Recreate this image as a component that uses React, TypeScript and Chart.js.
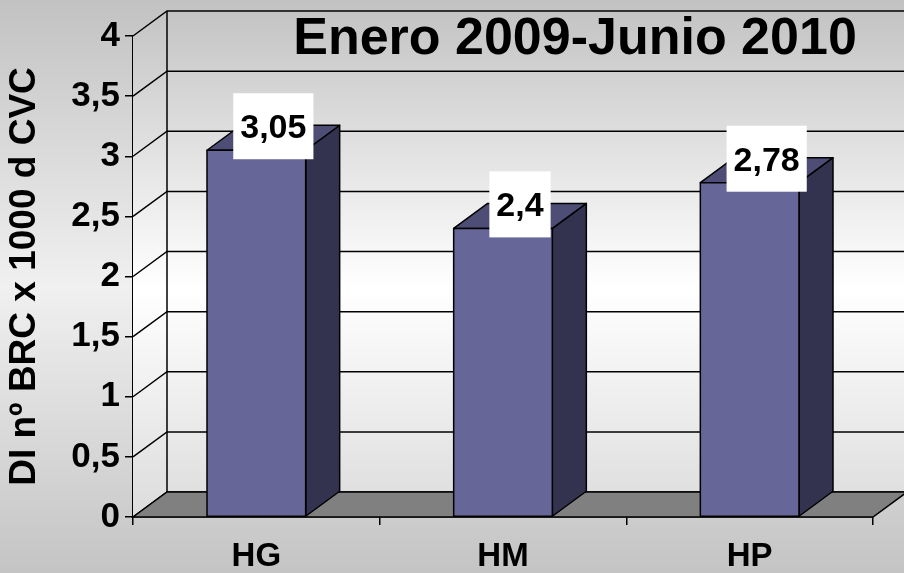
import React, { useEffect, useRef } from 'react';
import { Chart, registerables } from 'chart.js';

Chart.register(...registerables);

const categories = ['HG', 'HM', 'HP'];
const values = [3.05, 2.4, 2.78];
const yTicks = [0, 0.5, 1, 1.5, 2, 2.5, 3, 3.5, 4];
const chartTitle = 'Enero 2009-Junio 2010';
const yAxisTitle = 'DI nº BRC x 1000 d CVC';

const FONT = '"Liberation Sans", Arial, Helvetica, sans-serif';
const DX = 34;
const DY = -25;

const fmt = (v: number) => String(v).replace('.', ',');

const threeD = {
  id: 'threeD',
  beforeDraw(chart: any) {
    const { ctx, width, height } = chart;
    const g = ctx.createLinearGradient(0, 0, 0, height);
    g.addColorStop(0, '#c2c2c2');
    g.addColorStop(0.5, '#f0f0f0');
    g.addColorStop(1, '#c4c4c4');
    ctx.save();
    ctx.fillStyle = g;
    ctx.fillRect(0, 0, width, height);
    ctx.restore();
  },
  beforeDatasetsDraw(chart: any) {
    const { ctx, chartArea: a, scales } = chart;
    const ys = scales.y;
    const L = a.left, R = a.right, T = a.top, B = a.bottom;
    ctx.save();
    const wg = ctx.createLinearGradient(0, T + DY, 0, B);
    wg.addColorStop(0, '#c4c4c4');
    wg.addColorStop(0.55, '#ffffff');
    wg.addColorStop(1, '#dcdcdc');
    ctx.fillStyle = wg;
    ctx.fillRect(L + DX, T + DY, R - L + 2, B - T);
    ctx.beginPath();
    ctx.moveTo(L, T);
    ctx.lineTo(L + DX, T + DY);
    ctx.lineTo(L + DX, B + DY);
    ctx.lineTo(L, B);
    ctx.closePath();
    ctx.fill();
    ctx.strokeStyle = '#000';
    ctx.lineWidth = 1.5;
    yTicks.forEach((v) => {
      const y = ys.getPixelForValue(v);
      ctx.beginPath();
      ctx.moveTo(L, y);
      ctx.lineTo(L + DX, y + DY);
      ctx.lineTo(R + DX + 2, y + DY);
      ctx.stroke();
    });
    ctx.beginPath();
    ctx.moveTo(L + DX, T + DY);
    ctx.lineTo(L + DX, B + DY);
    ctx.stroke();
    ctx.beginPath();
    ctx.moveTo(L, B);
    ctx.lineTo(L + DX, B + DY);
    ctx.lineTo(R + DX, B + DY);
    ctx.lineTo(R, B);
    ctx.closePath();
    ctx.fillStyle = '#808080';
    ctx.fill();
    ctx.stroke();
    ctx.restore();
  },
  afterDatasetsDraw(chart: any) {
    const { ctx } = chart;
    const meta = chart.getDatasetMeta(0);
    ctx.save();
    ctx.lineWidth = 1.5;
    ctx.strokeStyle = '#000';
    ctx.lineJoin = 'round';
    meta.data.forEach((bar: any) => {
      const { x, y, base, width } = bar.getProps(['x', 'y', 'base', 'width'], true);
      const l = x - width / 2;
      const r = x + width / 2;
      ctx.beginPath();
      ctx.moveTo(r, y);
      ctx.lineTo(r + DX, y + DY);
      ctx.lineTo(r + DX, base + DY);
      ctx.lineTo(r, base);
      ctx.closePath();
      ctx.fillStyle = '#333350';
      ctx.fill();
      ctx.stroke();
      ctx.beginPath();
      ctx.moveTo(l, y);
      ctx.lineTo(l + DX, y + DY);
      ctx.lineTo(r + DX, y + DY);
      ctx.lineTo(r, y);
      ctx.closePath();
      ctx.fillStyle = '#4d4d76';
      ctx.fill();
      ctx.stroke();
      ctx.beginPath();
      ctx.rect(l, y, r - l, base - y);
      ctx.fillStyle = '#666699';
      ctx.fill();
      ctx.stroke();
    });
    ctx.font = `bold 34px ${FONT}`;
    ctx.textAlign = 'center';
    ctx.textBaseline = 'alphabetic';
    meta.data.forEach((bar: any, i: number) => {
      const { x, y } = bar.getProps(['x', 'y'], true);
      const txt = fmt(values[i]);
      const tw = ctx.measureText(txt).width;
      const cx = x + DX / 2;
      const cy = y + DY + 1;
      const bw = tw + 14;
      const bh = 66;
      ctx.fillStyle = '#ffffff';
      ctx.fillRect(cx - bw / 2, cy - bh / 2, bw, bh);
      ctx.fillStyle = '#000';
      ctx.fillText(txt, cx, cy + 12);
    });
    ctx.restore();
  },
  afterDraw(chart: any) {
    const { ctx } = chart;
    ctx.save();
    ctx.font = `bold 52px ${FONT}`;
    ctx.textAlign = 'center';
    ctx.textBaseline = 'alphabetic';
    ctx.fillStyle = '#000';
    ctx.fillText(chartTitle, 575, 54);
    ctx.restore();
  },
};

export default function App() {
  const ref = useRef<HTMLCanvasElement | null>(null);
  useEffect(() => {
    document.body.style.margin = '0';
    if (!ref.current) return;
    const chart = new Chart(ref.current, {
      type: 'bar',
      data: {
        labels: categories,
        datasets: [
          {
            data: values,
            backgroundColor: 'rgba(0,0,0,0)',
            borderWidth: 0,
            categoryPercentage: 1,
            barPercentage: 0.4,
          },
        ],
      },
      options: {
        animation: false,
        responsive: true,
        maintainAspectRatio: false,
        events: [],
        layout: { padding: { top: 36, right: 31, left: 0, bottom: 0 } },
        plugins: {
          legend: { display: false },
          tooltip: { enabled: false },
          title: { display: false },
        },
        scales: {
          x: {
            type: 'category',
            offset: true,
            z: 1,
            grid: {
              display: true,
              offset: true,
              drawOnChartArea: false,
              drawTicks: true,
              tickLength: 8,
              color: '#000',
              lineWidth: 1.5,
            },
            border: { display: true, color: '#000', width: 1.5 },
            ticks: {
              color: '#000',
              font: { family: FONT, size: 33, weight: 'bold' },
              padding: 12,
              maxRotation: 0,
            },
            afterFit: (s: any) => {
              s.height = 56;
            },
          },
          y: {
            min: 0,
            max: 4,
            z: 1,
            grid: {
              display: true,
              drawOnChartArea: false,
              drawTicks: true,
              tickLength: 8,
              color: '#000',
              lineWidth: 1.5,
            },
            border: { display: true, color: '#000', width: 1.5 },
            ticks: {
              stepSize: 0.5,
              color: '#000',
              font: { family: FONT, size: 35, weight: 'bold' },
              padding: 5,
              callback: (v: any) => fmt(Number(v)),
            },
            title: {
              display: true,
              text: yAxisTitle,
              color: '#000',
              font: { family: FONT, size: 37, weight: 'bold' },
              padding: { top: 3, bottom: 0 },
            },
            afterFit: (s: any) => {
              s.width = 133;
            },
          },
        },
      } as any,
      plugins: [threeD],
    });
    return () => chart.destroy();
  }, []);
  return (
    <div style={{ position: 'absolute', left: 0, top: 0, width: 904, height: 573 }}>
      <canvas ref={ref} />
    </div>
  );
}
